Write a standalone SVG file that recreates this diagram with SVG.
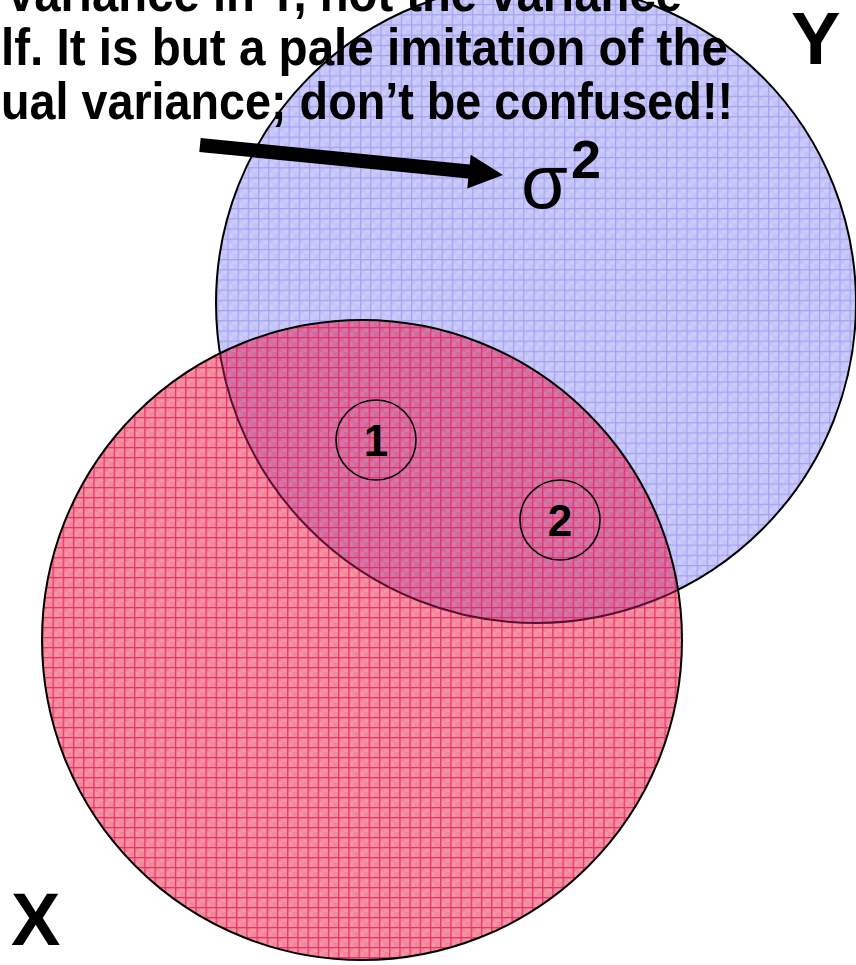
<svg xmlns="http://www.w3.org/2000/svg" width="856" height="965" viewBox="0 0 856 965">
<style>
.note{font-family:"Liberation Sans",Arial,sans-serif;font-weight:bold;font-size:52px;fill:#000}
.big{font-family:"Liberation Sans",Arial,sans-serif;font-weight:bold;font-size:74px;fill:#000}
.num{font-family:"Liberation Sans",Arial,sans-serif;font-weight:bold;font-size:44px;fill:#000;text-anchor:middle}
.ring{fill:none;stroke:#000;stroke-width:1.6}
.edge{fill:none;stroke:#000;stroke-width:2}
</style>
<defs>
<pattern id="pBlue" width="10.2" height="10.2" patternUnits="userSpaceOnUse" x="3" y="4">
<rect width="10.2" height="10.2" fill="#cbcbfc"/>
<rect x="0" y="0" width="5.1" height="5.1" fill="#c3c3f7"/>
<rect x="5.1" y="5.1" width="5.1" height="5.1" fill="#c3c3f7"/>
<rect x="0" y="0" width="1.2" height="10.2" fill="#a3a2f0"/>
<rect x="0" y="0" width="10.2" height="1.2" fill="#a3a2f0"/>
</pattern>
<pattern id="pRed" width="10.2" height="10" patternUnits="userSpaceOnUse" x="1.5" y="7">
<rect width="10.2" height="10" fill="#f693a4"/>
<rect x="0" y="0" width="5.1" height="5" fill="#f08999"/>
<rect x="5.1" y="5" width="5.1" height="5" fill="#f08999"/>
<rect x="0" y="0" width="1.3" height="10" fill="#e6336a"/>
<rect x="0" y="0" width="10.2" height="1.3" fill="#e6336a"/>
</pattern>
<pattern id="pMix" width="10.2" height="10" patternUnits="userSpaceOnUse" x="1.5" y="7">
<rect width="10.2" height="10" fill="#d976a8"/>
<rect x="0" y="0" width="5.1" height="5" fill="#d06d9f"/>
<rect x="5.1" y="5" width="5.1" height="5" fill="#d06d9f"/>
<rect x="0" y="0" width="1.3" height="10" fill="#e0306c"/>
<rect x="0" y="0" width="10.2" height="1.3" fill="#e0306c"/>
</pattern>
<clipPath id="clipBlue"><circle cx="536" cy="303" r="320"/></clipPath>
<clipPath id="clipRed"><circle cx="362" cy="640" r="320"/></clipPath>
<clipPath id="clipOutsideRed"><path clip-rule="evenodd" d="M -10 -30 H 870 V 980 H -10 Z M 42 640 A 320 320 0 1 0 682 640 A 320 320 0 1 0 42 640 Z"/></clipPath>
</defs>

<g id="node-Y">
<circle cx="536" cy="303" r="320" fill="url(#pBlue)"/>
</g>
<g id="node-X">
<circle cx="362" cy="640" r="320" fill="url(#pRed)"/>
</g>
<g id="overlap">
<circle cx="362" cy="640" r="320" fill="url(#pMix)" clip-path="url(#clipBlue)"/>
</g>
<g id="outline-Y">
<circle cx="536" cy="303" r="320" fill="none" stroke="#000" stroke-width="2" clip-path="url(#clipOutsideRed)"/>
<circle cx="536" cy="303" r="320" fill="none" stroke="#5a1030" stroke-width="2" clip-path="url(#clipRed)"/>
</g>
<g id="outline-X">
<circle class="edge" cx="362" cy="640" r="320"/>
</g>

<g id="label-Y"><text class="big" x="791" y="64">Y</text></g>
<g id="label-X"><text class="big" x="11" y="945">X</text></g>

<g id="node-1">
<circle class="ring" cx="376" cy="440" r="40"/>
<text class="num" x="376" y="456">1</text>
</g>
<g id="node-2">
<circle class="ring" cx="560" cy="520" r="40"/>
<text class="num" x="560" y="536">2</text>
</g>

<g id="note">
<text class="note" x="8" y="11" textLength="674" lengthAdjust="spacingAndGlyphs">variance in Y, not the variance</text>
<text class="note" x="1" y="65" textLength="727" lengthAdjust="spacingAndGlyphs">lf. It is but a pale imitation of the</text>
<text class="note" x="1" y="119" textLength="732" lengthAdjust="spacingAndGlyphs">ual variance; don’t be confused!!</text>
</g>

<g id="node-sigma">
<text x="521" y="208" style="font-family:'Liberation Sans',Arial,sans-serif;font-size:76px;fill:#000">σ</text>
<text x="571" y="178" style="font-family:'Liberation Sans',Arial,sans-serif;font-weight:bold;font-size:54px;fill:#000">2</text>
</g>

<g id="connectors">
<path d="M 200.7 138 L 469.7 164.6 L 470.7 154.7 L 503 175 L 467.3 188.5 L 468.3 178.6 L 199.3 152 Z" fill="#000"/>
</g>
</svg>
